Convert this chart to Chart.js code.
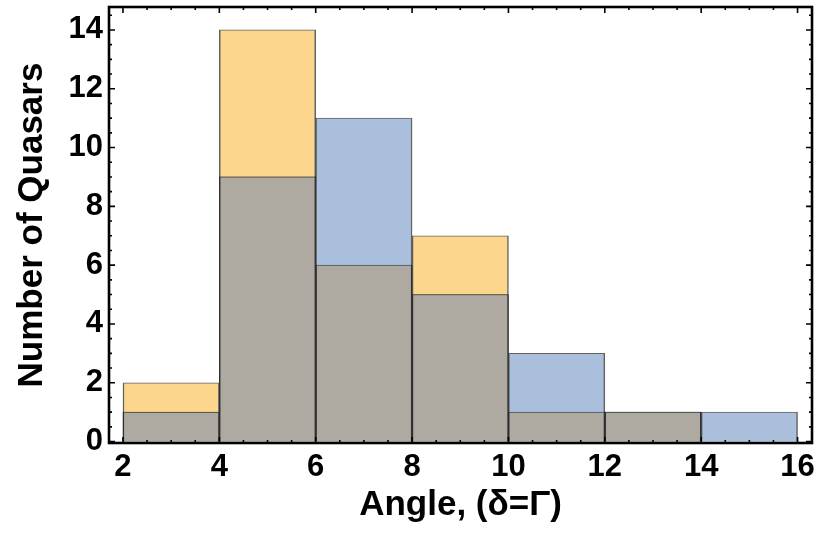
<!DOCTYPE html>
<html><head><meta charset="utf-8">
<script src="https://cdn.jsdelivr.net/npm/chart.js@4"></script>
<style>html,body{margin:0;padding:0;background:#fff}#wrap{width:833px;height:542px}</style>
</head><body><div id="wrap"><canvas id="c" width="833" height="542"></canvas></div>
<script>
const binCenters = [3, 5, 7, 9, 11, 13, 15];
const orangeCounts = [2, 14, 6, 7, 1, 1, 0];
const blueCounts = [1, 9, 11, 5, 3, 1, 1];
const overlapCounts = [1, 9, 6, 5, 1, 1, 0];
const xTickLabels = [2, 4, 6, 8, 10, 12, 14, 16];
const yTickLabels = [0, 2, 4, 6, 8, 10, 12, 14];

const toPts = arr => binCenters.map((c, i) => ({x: c, y: arr[i]}));
const edge = {left: 1.5, right: 1.5, top: 1, bottom: 0};
const edgeColor = 'rgba(45,45,45,0.75)';

const framePlugin = {
  id: 'frame',
  afterDraw(chart) {
    const {ctx, chartArea: a, scales: {x, y}} = chart;
    ctx.save();
    ctx.strokeStyle = '#000';
    ctx.lineWidth = 1.6;
    ctx.beginPath();
    for (let v = xTickLabels[0]; v <= xTickLabels[xTickLabels.length - 1] + 1e-6; v += 0.5) {
      const px = x.getPixelForValue(v);
      const len = xTickLabels.includes(v) ? 6 : 3;
      ctx.moveTo(px, a.bottom); ctx.lineTo(px, a.bottom - len);
      ctx.moveTo(px, a.top); ctx.lineTo(px, a.top + len);
    }
    for (let v = 0; v <= 14.5 + 1e-6; v += 0.5) {
      const py = y.getPixelForValue(v);
      const len = yTickLabels.includes(v) ? 6 : 3;
      ctx.moveTo(a.left, py); ctx.lineTo(a.left + len, py);
      ctx.moveTo(a.right, py); ctx.lineTo(a.right - len, py);
    }
    ctx.stroke();
    ctx.lineWidth = 2.6;
    ctx.strokeRect(a.left, a.top, a.right - a.left, a.bottom - a.top);
    ctx.restore();
  }
};

const tickFont = {family: 'Liberation Sans', weight: 'bold', size: 31};
const titleFont = {family: 'Liberation Sans', weight: 'bold', size: 35};

new Chart(document.getElementById('c'), {
  type: 'bar',
  data: {
    datasets: [
      {label: 'overlap', data: toPts(overlapCounts), backgroundColor: '#AEAAA2', borderColor: edgeColor, borderWidth: edge, grouped: false, order: 0, barPercentage: 1, categoryPercentage: 1, borderSkipped: false},
      {label: 'orange', data: toPts(orangeCounts), backgroundColor: '#FDD68E', borderColor: edgeColor, borderWidth: edge, grouped: false, order: 2, barPercentage: 1, categoryPercentage: 1, borderSkipped: false},
      {label: 'blue', data: toPts(blueCounts), backgroundColor: '#AABFDC', borderColor: edgeColor, borderWidth: edge, grouped: false, order: 1, barPercentage: 1, categoryPercentage: 1, borderSkipped: false}
    ]
  },
  options: {
    responsive: false,
    animation: false,
    layout: {padding: {top: 7, right: 21, left: 0, bottom: 0}},
    plugins: {legend: {display: false}, tooltip: {enabled: false}},
    scales: {
      x: {
        type: 'linear', min: 1.71, max: 16.3, offset: false,
        grid: {display: false, drawTicks: false}, border: {display: false},
        afterBuildTicks: s => { s.ticks = xTickLabels.map(v => ({value: v})); },
        afterFit: s => { s.height = 99; s.paddingLeft = 0; s.paddingRight = 0; },
        ticks: {font: tickFont, color: '#000', padding: 6, maxRotation: 0, autoSkip: false},
        title: {display: true, text: 'Angle, (δ=Γ)', font: titleFont, color: '#000', padding: {top: 0, bottom: 16}}
      },
      y: {
        type: 'linear', min: -0.05, max: 14.78,
        grid: {display: false, drawTicks: false}, border: {display: false},
        afterBuildTicks: s => { s.ticks = yTickLabels.map(v => ({value: v})); },
        afterFit: s => { s.width = 109; s.paddingTop = 0; s.paddingBottom = 0; },
        ticks: {font: tickFont, color: '#000', padding: 6},
        title: {display: true, text: 'Number of Quasars', font: titleFont, color: '#000', padding: {top: 11, bottom: 0}}
      }
    }
  },
  plugins: [framePlugin]
});
</script></body></html>
